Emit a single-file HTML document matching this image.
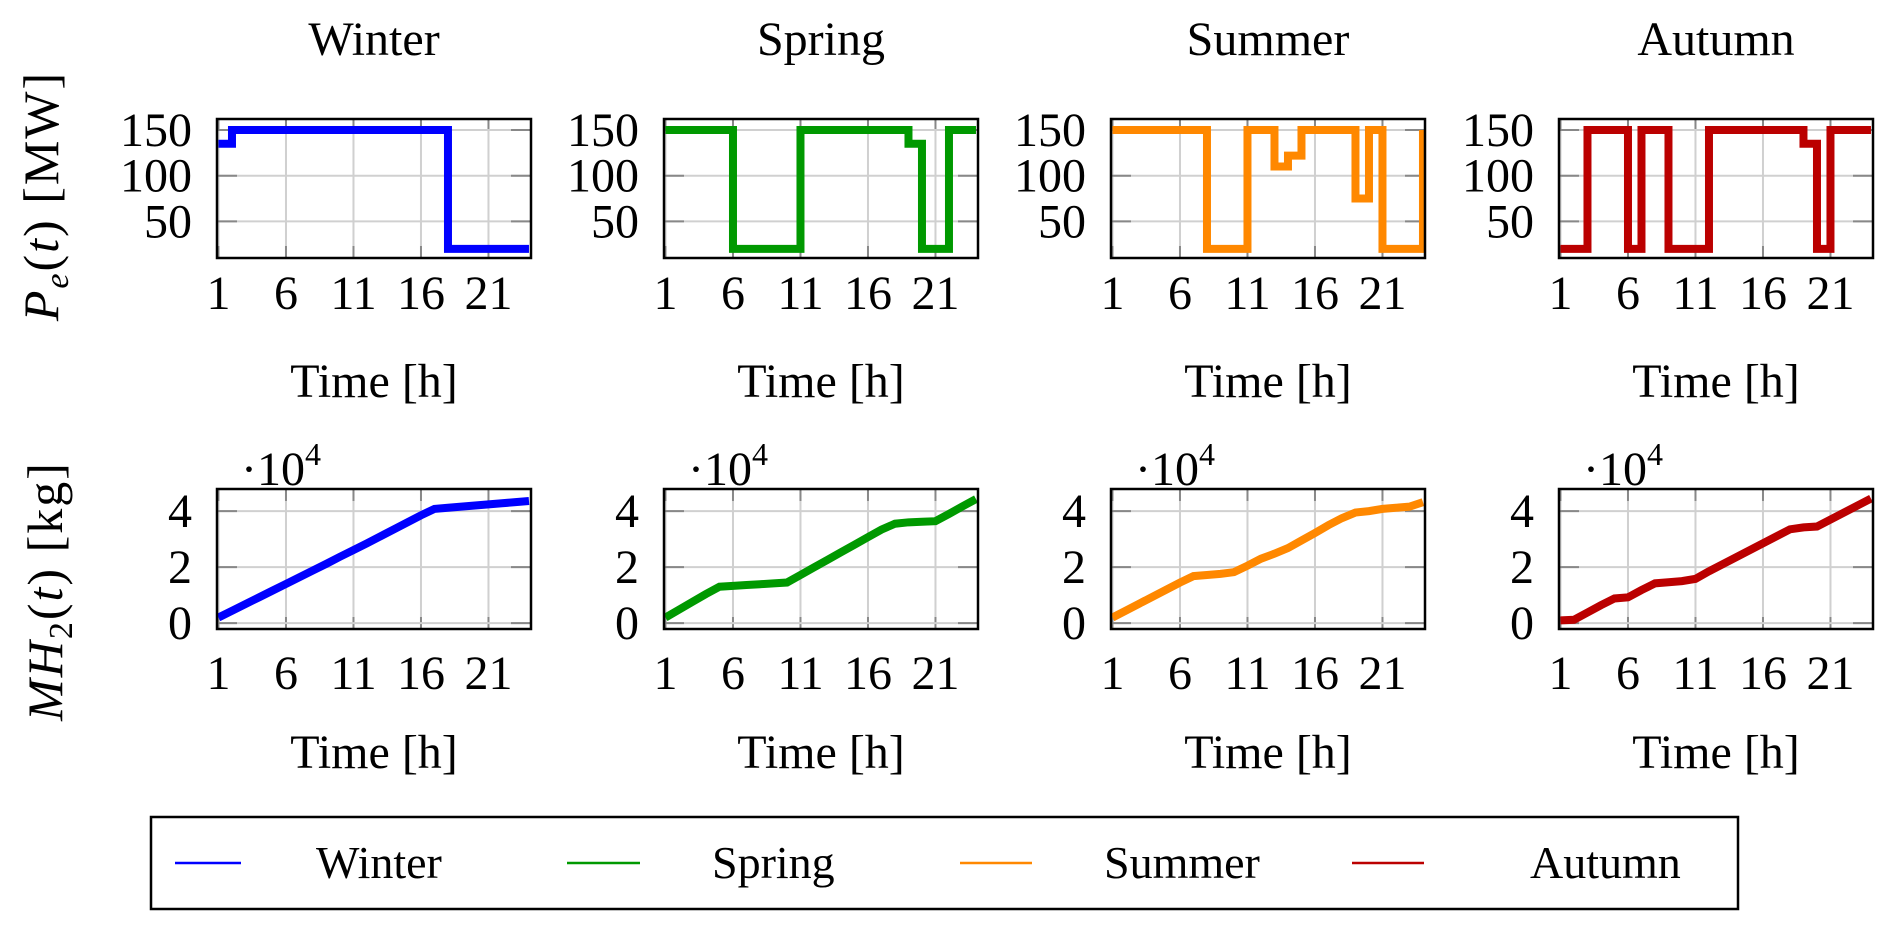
<!DOCTYPE html>
<html><head><meta charset="utf-8">
<style>
html,body{margin:0;padding:0;background:#fff;}
svg{display:block;font-family:"Liberation Serif",serif;}
</style></head>
<body>
<svg id="chart" width="1892" height="930" viewBox="0 0 1892 930" xmlns="http://www.w3.org/2000/svg">
<rect x="0" y="0" width="1892" height="930" fill="#fff"/>
<g id="panels"></g>
<text transform="translate(58,196) rotate(-90)" text-anchor="middle" font-size="50" letter-spacing="2"><tspan font-style="italic">P</tspan><tspan font-style="italic" font-size="34" dy="10">e</tspan><tspan dy="-10">(</tspan><tspan font-style="italic">t</tspan><tspan>)   [MW]</tspan></text>
<text transform="translate(62,591) rotate(-90)" text-anchor="middle" font-size="50" letter-spacing="2"><tspan font-style="italic">MH</tspan><tspan font-size="34" dy="10">2</tspan><tspan dy="-10">(</tspan><tspan font-style="italic">t</tspan><tspan>)   [kg]</tspan></text>
<g>
<rect x="151" y="817" width="1587" height="92" fill="#fff" stroke="#000" stroke-width="2.5"/>
<line x1="175" y1="863" x2="241" y2="863" stroke="#0000ff" stroke-width="2.5"/>
<text x="316" y="878" font-size="46">Winter</text>
<line x1="567" y1="863" x2="640" y2="863" stroke="#009900" stroke-width="2.5"/>
<text x="712" y="878" font-size="46">Spring</text>
<line x1="960" y1="863" x2="1032" y2="863" stroke="#ff8800" stroke-width="2.5"/>
<text x="1104" y="878" font-size="46">Summer</text>
<line x1="1352" y1="863" x2="1424" y2="863" stroke="#bb0000" stroke-width="2.5"/>
<text x="1530" y="878" font-size="46">Autumn</text>
</g>
</svg>
<script>
const seasons = ["Winter","Spring","Summer","Autumn"];
const colors = ["#0000ff","#009900","#ff8800","#bb0000"];
const hours = [1,2,3,4,5,6,7,8,9,10,11,12,13,14,15,16,17,18,19,20,21,22,23,24];
const xTicks = [1,6,11,16,21];
const powerTicks = [50,100,150];
const h2Ticks = [0,2,4];
const powerWinter = [135,150,150,150,150,150,150,150,150,150,150,150,150,150,150,150,150,20,20,20,20,20,20,20];
const powerSpring = [150,150,150,150,150,20,20,20,20,20,150,150,150,150,150,150,150,150,135,20,20,150,150,150];
const powerSummer = [150,150,150,150,150,150,150,20,20,20,150,150,110,122,150,150,150,150,75,150,20,20,20,150];
const powerAutumn = [20,20,150,150,150,20,150,150,20,20,20,150,150,150,150,150,150,150,135,20,150,150,150,150];
const h2Winter = [0.2,0.44,0.68,0.92,1.16,1.4,1.64,1.88,2.12,2.37,2.61,2.85,3.1,3.35,3.6,3.85,4.08,4.12,4.16,4.2,4.24,4.28,4.32,4.36];
const h2Spring = [0.2,0.48,0.76,1.04,1.3,1.33,1.36,1.39,1.42,1.45,1.72,1.99,2.26,2.53,2.8,3.07,3.34,3.55,3.6,3.62,3.64,3.9,4.17,4.43];
const h2Summer = [0.2,0.45,0.7,0.95,1.2,1.45,1.68,1.72,1.76,1.82,2.05,2.3,2.48,2.68,2.95,3.22,3.5,3.75,3.95,4.0,4.08,4.12,4.16,4.32];
const h2Autumn = [0.1,0.12,0.38,0.64,0.88,0.92,1.18,1.42,1.46,1.5,1.58,1.85,2.1,2.35,2.6,2.85,3.1,3.35,3.42,3.45,3.7,3.95,4.2,4.45];
const powerSeries = [powerWinter,powerSpring,powerSummer,powerAutumn];
const h2Series = [h2Winter,h2Spring,h2Summer,h2Autumn];

const NS = "http://www.w3.org/2000/svg";
const root = document.getElementById("panels");
function mk(tag, attrs, parent){
  const e = document.createElementNS(NS, tag);
  for (const k in attrs) e.setAttribute(k, attrs[k]);
  parent.appendChild(e);
  return e;
}
const lefts = [217,664,1111,1559];
const W = 314;
const X0 = 0.89, X1 = 24.15;

function drawPanel(i, top, H, y0, y1, yt, vals, step, label, tickBase, timeBase){
  const L = lefts[i];
  const sx = v => L + (v - X0) / (X1 - X0) * W;
  const sy = v => top + H - (v - y0) / (y1 - y0) * H;
  const g = mk("g", {}, root);
  
  
  xTicks.forEach(t => {
    const ln = mk("line", {x1:sx(t), x2:sx(t), y1:top, y2:top+H, stroke:"#d0d0d0", "stroke-width":2}, g);
    
    
    mk("line", {x1:sx(t), x2:sx(t), y1:top+H, y2:top+H-12, stroke:"#888", "stroke-width":2}, g);
    mk("line", {x1:sx(t), x2:sx(t), y1:top, y2:top+12, stroke:"#888", "stroke-width":2}, g);
    const tx = mk("text", {x:sx(t), y:tickBase, "text-anchor":"middle", "font-size":48}, g);
    
    
    tx.textContent = t;
  });
  yt.forEach(t => {
    const ln = mk("line", {x1:L, x2:L+W, y1:sy(t), y2:sy(t), stroke:"#d0d0d0", "stroke-width":2}, g);
    
    
    mk("line", {x1:L, x2:L+20, y1:sy(t), y2:sy(t), stroke:"#888", "stroke-width":2}, g);
    mk("line", {x1:L+W-20, x2:L+W, y1:sy(t), y2:sy(t), stroke:"#888", "stroke-width":2}, g);
    const tx = mk("text", {x:L-25, y:sy(t)+16, "text-anchor":"end", "font-size":48}, g);
    
    
    tx.textContent = t;
  });
  let d = "";
  hours.forEach((h, k) => {
    if (k === 0) d += "M" + sx(h) + "," + sy(vals[k]);
    else if (step) d += "L" + sx(h) + "," + sy(vals[k-1]) + "L" + sx(h) + "," + sy(vals[k]);
    else d += "L" + sx(h) + "," + sy(vals[k]);
  });
  const p = mk("path", {d:d, fill:"none", stroke:colors[i], "stroke-width":8, "stroke-linejoin":"miter", "clip-path":"url(#clip"+label+i+")"}, g);
  
  
  const cp = mk("clipPath", {id:"clip"+label+i}, g);
  mk("rect", {x:L, y:top-1, width:W, height:H+2}, cp);
  const fr = mk("rect", {x:L, y:top, width:W, height:H, fill:"none", stroke:"#000", "stroke-width":2.5}, g);
  
  
  const xl = mk("text", {x:L+W/2, y:timeBase, "text-anchor":"middle", "font-size":48}, g);
  
  
  xl.textContent = "Time [h]";
}

for (let i = 0; i < 4; i++) {
  const t = mk("text", {x:lefts[i]+W/2, y:55, "text-anchor":"middle", "font-size":48}, root);
  
  
  t.textContent = seasons[i];
  drawPanel(i, 119, 139, 10, 162, powerTicks, powerSeries[i], true, "power", 309, 397);
  drawPanel(i, 489, 140, -0.21, 4.79, h2Ticks, h2Series[i], false, "hydrogen", 689, 768);
  const m = mk("text", {x:lefts[i]+24, y:485, "font-size":48}, root);
  
  
  m.innerHTML = '·10<tspan font-size="32" dy="-20">4</tspan>';
}
</script>
</body></html>
